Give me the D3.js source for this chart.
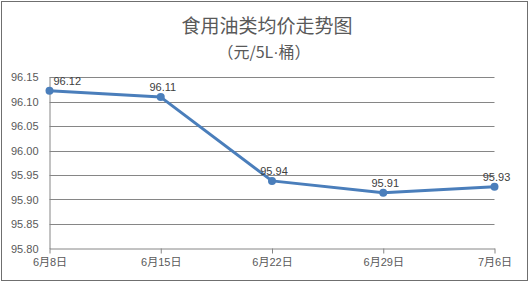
<!DOCTYPE html>
<html><head><meta charset="utf-8">
<script src="https://cdn.jsdelivr.net/npm/d3@7/dist/d3.min.js"></script>
<style>html,body{margin:0;padding:0;background:#fff;}svg{display:block;}</style>
</head><body>
<svg id="c" width="530" height="283"></svg>
<script>
const categories = ["6月8日","6月15日","6月22日","6月29日","7月6日"];
const values = [96.122, 96.109, 95.938, 95.914, 95.926];
const valueLabels = ["96.12","96.11","95.94","95.91","95.93"];
const yTicks = [95.80,95.85,95.90,95.95,96.00,96.05,96.10,96.15];
const title = "食用油类均价走势图";
const subtitleParts = ["（元/5L", "·", "桶）"];

const svg = d3.select("#c");
const font = "'Liberation Sans', 'Noto Sans CJK SC', sans-serif";
const cjk = "'Noto Sans CJK SC', sans-serif";
svg.append("rect").attr("x",1.5).attr("y",1.5).attr("width",526).attr("height",279)
  .attr("fill","#fff").attr("stroke","#6f6f6f").attr("stroke-width",1);

const L=49.5, R=494.5, T=77, B=248.5;
const x = d3.scalePoint().domain(categories).range([L,R]);
const y = d3.scaleLinear().domain([95.80,96.15]).range([B,T]);

// gridlines
svg.append("g").selectAll("line").data(yTicks.slice(1)).join("line")
  .attr("x1",L).attr("x2",R).attr("y1",d=>Math.round(y(d))+0.5).attr("y2",d=>Math.round(y(d))+0.5)
  .attr("stroke","#868686").attr("stroke-width",1);

// y axis
const ya = svg.append("g").attr("transform",`translate(${L},0)`)
  .call(d3.axisLeft(y).tickValues(yTicks).tickFormat(d3.format(".2f")).tickSize(0).tickPadding(11));
ya.select(".domain").attr("stroke","#868686");
ya.selectAll("text").attr("font-family",font).attr("font-size",11).attr("fill","#595959");

// x axis
const xa = svg.append("g").attr("transform",`translate(0,${B})`)
  .call(d3.axisBottom(x).tickSize(5).tickSizeOuter(0).tickPadding(5));
xa.select(".domain").attr("stroke","#868686");
xa.selectAll(".tick line").attr("stroke","#868686");
xa.selectAll("text").attr("font-family",font).attr("font-size",11).attr("fill","#595959");

// line
const pts = categories.map((c,i)=>[x(c), y(values[i])]);
svg.append("path").attr("d", d3.line()(pts)).attr("fill","none")
  .attr("stroke","#4a7ebb").attr("stroke-width",3).attr("stroke-linejoin","round");
svg.append("g").selectAll("circle").data(pts).join("circle")
  .attr("cx",d=>d[0]).attr("cy",d=>d[1]).attr("r",4).attr("fill","#4a7ebb");

// labels
svg.append("g").selectAll("text").data(pts).join("text")
  .attr("x",(d,i)=> i===0 ? d[0]+4 : d[0]+2)
  .attr("y",d=>d[1]-6)
  .attr("text-anchor",(d,i)=> i===0 ? "start" : "middle")
  .attr("font-family",font).attr("font-size",11).attr("fill","#404040")
  .text((d,i)=>valueLabels[i]);

// titles
svg.append("text").attr("x",267).attr("y",33).attr("text-anchor","middle")
  .attr("font-family",cjk).attr("font-size",19).attr("fill","#595959").text(title);
const st = svg.append("text").attr("x",264).attr("y",58).attr("text-anchor","middle")
  .attr("font-family",cjk).attr("font-size",16).attr("fill","#595959");
st.append("tspan").text(subtitleParts[0]);
st.append("tspan").attr("font-family","'Liberation Sans', sans-serif").text(subtitleParts[1]);
st.append("tspan").text(subtitleParts[2]);
</script>
</body></html>
